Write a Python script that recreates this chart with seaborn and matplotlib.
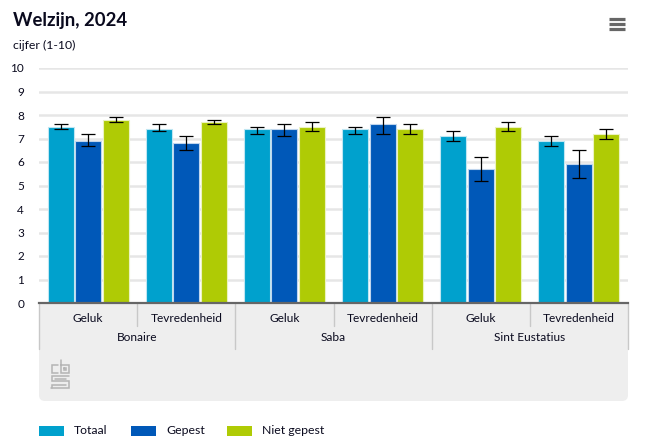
import matplotlib
matplotlib.use("Agg")
import matplotlib.pyplot as plt
import pandas as pd
import seaborn as sns
from matplotlib.patches import FancyBboxPatch, Rectangle

W, H = 646, 441

# %% Data
islands = ["Bonaire", "Saba", "Sint Eustatius"]
topics = ["Geluk", "Tevredenheid"]
groups = ["Totaal", "Gepest", "Niet gepest"]
colors = ["#00A1CD", "#0058B8", "#AFCB05"]

totaal = [7.5, 7.4, 7.4, 7.4, 7.1, 6.9]
gepest = [6.9, 6.8, 7.4, 7.6, 5.7, 5.9]
niet_gepest = [7.8, 7.7, 7.5, 7.4, 7.5, 7.2]

totaal_low = [7.4, 7.3, 7.2, 7.2, 6.9, 6.7]
totaal_high = [7.6, 7.6, 7.5, 7.5, 7.3, 7.1]
gepest_low = [6.7, 6.5, 7.1, 7.2, 5.2, 5.3]
gepest_high = [7.2, 7.1, 7.6, 7.9, 6.2, 6.5]
niet_low = [7.7, 7.6, 7.3, 7.2, 7.3, 7.0]
niet_high = [7.9, 7.8, 7.7, 7.6, 7.7, 7.4]

labels = [f"{i} {t}" for i in islands for t in topics]
df = pd.DataFrame(
    {
        "label": labels * 3,
        "groep": [g for g in groups for _ in labels],
        "cijfer": totaal + gepest + niet_gepest,
    }
)

# %% Plot
sns.set_theme(style="white")
plt.rcParams["font.family"] = ["Lato", "DejaVu Sans"]

fig = plt.figure(figsize=(W / 100, H / 100), dpi=100, facecolor="white")

# overlay in pixel coordinates for the panel, legend and icons
bg = fig.add_axes([0, 0, 1, 1], zorder=0)
bg.set_xlim(0, W)
bg.set_ylim(H, 0)
bg.axis("off")

ax = fig.add_axes([39 / W, 1 - 303 / H, 589 / W, 235 / H], zorder=1)
ax.patch.set_alpha(0)

sns.barplot(
    data=df,
    x="label",
    y="cijfer",
    hue="groep",
    hue_order=groups,
    palette=colors,
    saturation=1,
    width=0.84,
    gap=0.05,
    legend=False,
    ax=ax,
    zorder=2,
)

edge_colors = ["#BFE6F2", "#BFD5ED", "#EBF2C0"]
lows = [totaal_low, gepest_low, niet_low]
highs = [totaal_high, gepest_high, niet_high]
for cont, edge, low, high in zip(ax.containers, edge_colors, lows, highs):
    xs = []
    for bar in cont:
        bar.set_edgecolor(edge)
        bar.set_linewidth(0.8)
        xs.append(bar.get_x() + bar.get_width() / 2)
    vals = [b.get_height() for b in cont]
    err = [[v - l for v, l in zip(vals, low)], [h - v for v, h in zip(vals, high)]]
    ax.errorbar(xs, vals, yerr=err, fmt="none", ecolor="black", elinewidth=0.9, capsize=4.7, capthick=0.9, zorder=3)

ax.set_xlim(-0.5, 5.5)
ax.set_ylim(0, 10)
ax.set_yticks(range(0, 11))
ax.set_xticks([])
ax.set_xlabel("")
ax.set_ylabel("")
ax.grid(axis="y", color="#E6E6E6", linewidth=1.8, zorder=0)
ax.set_axisbelow(True)
ax.tick_params(axis="y", length=0, pad=10.8, labelsize=8.5, labelcolor="#0a0a1e")
sns.despine(ax=ax, left=True, right=True, top=True)
ax.spines["bottom"].set_color("#666666")
ax.spines["bottom"].set_linewidth(1.6)

# title and unit
bg.text(13, 20.5, "Welzijn, 2024", fontsize=13.3, fontweight="bold", color="#0a0a1e", va="center", ha="left")
bg.text(13, 45, "cijfer (1-10)", fontsize=8.8, color="#0a0a1e", va="center", ha="left")

# menu icon
for y in [18.5, 23.5, 28.5]:
    bg.plot([609, 625], [y, y], color="#666666", lw=2.3, solid_capstyle="butt")

# category panel under the axis
panel = "#EEEEEE"
bg.add_patch(Rectangle((39, 304), 589, 60, fc=panel, ec="none"))
bg.add_patch(FancyBboxPatch((44, 340), 579, 56, boxstyle="round,pad=5,rounding_size=6", fc=panel, ec="none"))

group_w = 589 / 6
for i in range(7):
    x = 39 + i * group_w
    bg.plot([x, x], [304, 349 if i % 2 == 0 else 326], color="#C8C8C8", lw=1)
for i, lab in enumerate(topics * 3):
    bg.text(39 + (i + 0.5) * group_w, 318.5, lab, fontsize=8.6, color="#0a0a1e", ha="center", va="center")
for i, lab in enumerate(islands):
    bg.text(39 + (2 * i + 1) * group_w, 337.5, lab, fontsize=8.6, color="#0a0a1e", ha="center", va="center")

# cbs logo, rough outline
logo = "#B4B4B4"
logo_lines = [
    ([58, 51.5, 51.5, 58], [365, 365, 373, 373]),
    ([61, 61, 68.5, 68.5, 61], [360, 373, 373, 365, 365]),
    ([64, 66, 66, 64, 64], [368, 368, 370, 370, 368]),
    ([69, 51.5, 51.5, 68.5, 68.5, 51], [375.5, 375.5, 381, 381, 388, 388]),
    ([66, 54.5, 54.5], [378.5, 378.5, 378.5]),
    ([51.5, 51.5, 66, 66], [388, 384.5, 384.5, 384.5]),
]
for xs, ys in logo_lines:
    bg.plot(xs, ys, color=logo, lw=1.1, solid_joinstyle="miter")

# legend
for x, name, col in zip([39, 131, 227], groups, colors):
    bg.add_patch(Rectangle((x, 426), 25, 10, fc=col, ec="none"))
    bg.text(x + 35, 430.5, name, fontsize=8.8, color="#0a0a1e", ha="left", va="center")

bg.set_xlim(0, W)
bg.set_ylim(H, 0)
fig.savefig("out.png", dpi=100)
